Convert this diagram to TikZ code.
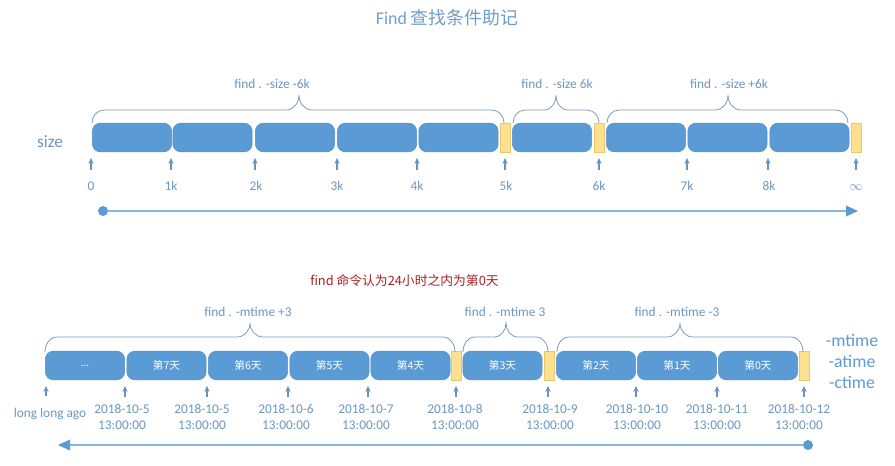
\documentclass[tikz,border=0pt]{standalone}
\usepackage{fontspec}
\setmainfont{Carlito}
\newfontfamily\cjk{Noto Sans CJK SC}
\usetikzlibrary{arrows.meta}
\definecolor{blk}{HTML}{5B9BD5}
\definecolor{blkedge}{HTML}{5090CA}
\definecolor{ylw}{HTML}{FFE08F}
\definecolor{ylwedge}{HTML}{EBC86E}
\definecolor{lbl}{HTML}{6C98C0}
\definecolor{tickc}{HTML}{6A93BC}
\definecolor{bracec}{HTML}{7E9AB6}
\definecolor{axisc}{HTML}{8AB8DC}
\definecolor{titlec}{HTML}{6E9FC9}
\definecolor{redc}{HTML}{A82020}
\definecolor{timec}{HTML}{5E9BD2}
\begin{document}
\begin{tikzpicture}[x=0.75pt,y=-0.75pt,
  blkbox/.style={fill=blk, draw=blkedge, line width=0.4pt, rounded corners=6pt,
    minimum width=59.5pt, minimum height=21.5pt, inner sep=0pt, text=white,
    font=\cjk\fontsize{8}{9}\selectfont},
  ylwbox/.style={fill=ylw, draw=ylwedge, line width=0.4pt, minimum width=7.5pt,
    minimum height=21.5pt, inner sep=0pt},
  lbl/.style={text=lbl, font=\fontsize{10}{12}\selectfont, inner sep=0pt, text height=6.3pt, text depth=0pt},
  datelbl/.style={text=lbl, font=\fontsize{10}{12}\selectfont, inner sep=0pt, align=center, anchor=north},
  tk/.style={draw=tickc, line width=0.8pt, -{Stealth[length=4.5pt,width=4pt]}},
  brc/.style={draw=bracec, line width=0.6pt},
  brclbl/.style={text=lbl, font=\fontsize{10}{12}\selectfont, inner sep=0pt, anchor=base},
  axis/.style={draw=axisc, line width=1pt},
  dotc/.style={circle, fill=blk, inner sep=0pt, minimum size=7.5pt},
  timelbl/.style={text=timec, font=\fontsize{13.3}{15}\selectfont, inner sep=0pt, anchor=base}
]
\useasboundingbox[fill=white] (0,0) rectangle (895,465);

% title
\node[anchor=base, text=titlec, font=\fontsize{13.4}{16}\selectfont, inner sep=0pt] (title) at (447,24) {Find {\cjk 查找条件助记}};

% ---------------- top: size ----------------
\node[anchor=base, text=lbl, font=\fontsize{13}{15}\selectfont, inner sep=0pt] (size) at (50,147) {size};

\node[blkbox] (s1) at (132,137.5) {};
\node[blkbox] (s2) at (212.5,137.5) {};
\node[blkbox] (s3) at (295,137.5) {};
\node[blkbox] (s4) at (377,137.5) {};
\node[blkbox] (s5) at (458.5,137.5) {};
\node[ylwbox] (y1) at (505,137.5) {};
\node[blkbox] (s6) at (552,137.5) {};
\node[ylwbox] (y2) at (599,137.5) {};
\node[blkbox] (s7) at (646,137.5) {};
\node[blkbox] (s8) at (727.5,137.5) {};
\node[blkbox] (s9) at (809.5,137.5) {};
\node[ylwbox] (y3) at (856,137.5) {};

% tick labels
\node[lbl, anchor=base] (k0) at (91,190) {0};
\node[lbl, anchor=base] (k1) at (171,190) {1k};
\node[lbl, anchor=base] (k2) at (256,190) {2k};
\node[lbl, anchor=base] (k3) at (337,190) {3k};
\node[lbl, anchor=base] (k4) at (417,190) {4k};
\node[lbl, anchor=base] (k5) at (506,190) {5k};
\node[lbl, anchor=base] (k6) at (599,190) {6k};
\node[lbl, anchor=base] (k7) at (687,190) {7k};
\node[lbl, anchor=base] (k8) at (769,190) {8k};
\node[lbl, anchor=base] (k9) at (856,190) {$\infty$};

\coordinate (a0) at (91,158);
\coordinate (a1) at (171,158);
\coordinate (a2) at (255,158);
\coordinate (a3) at (337,158);
\coordinate (a4) at (417,158);
\coordinate (a5) at (505,158);
\coordinate (a6) at (599,158);
\coordinate (a7) at (687,158);
\coordinate (a8) at (768,158);
\coordinate (a9) at (856,158);
\foreach \i in {0,...,9} {
  \draw[tk, shorten <=8.5pt] (k\i.north -| a\i) -- (a\i);
}

% braces top
\draw[brc] (92,123) to[out=90,in=180] (104,110) -- (286,110) to[out=0,in=-90] (299,95)
  to[out=-90,in=180] (312,110) -- (492,110) to[out=0,in=90] (504,123);
\draw[brc] (513,123) to[out=90,in=180] (525,110) -- (544,110) to[out=0,in=-90] (556,95)
  to[out=-90,in=180] (568,110) -- (587,110) to[out=0,in=90] (599,123);
\draw[brc] (607,123) to[out=90,in=180] (619,110) -- (715,110) to[out=0,in=-90] (728,95)
  to[out=-90,in=180] (741,110) -- (836,110) to[out=0,in=90] (848,123);
\node[brclbl] (b1) at (272,88) {find . -size -6k};
\node[brclbl] (b2) at (557,88) {find . -size 6k};
\node[brclbl] (b3) at (729,88) {find . -size +6k};

% axis top
\node[dotc] (d1) at (103,211) {};
\coordinate (e1) at (858,211);
\draw[axis, -{Triangle[length=9pt,width=8pt,fill=blk,color=blk]}] (d1) -- (e1);

% ---------------- bottom: time ----------------
\node[anchor=base west, text=redc, font=\cjk\fontsize{9.6}{12}\selectfont, inner sep=0pt] (note) at (310,285) {find 命令认为24小时之内为第0天};

\node[blkbox] (t1) at (85,365.5) {\fontspec{Carlito}...};
\node[blkbox] (t2) at (166.5,365.5) {第7天};
\node[blkbox] (t3) at (248,365.5) {第6天};
\node[blkbox] (t4) at (329.5,365.5) {第5天};
\node[blkbox] (t5) at (410.5,365.5) {第4天};
\node[ylwbox] (z1) at (456,365.5) {};
\node[blkbox] (t6) at (502.5,365.5) {第3天};
\node[ylwbox] (z2) at (549,365.5) {};
\node[blkbox] (t7) at (596,365.5) {第2天};
\node[blkbox] (t8) at (677,365.5) {第1天};
\node[blkbox] (t9) at (758,365.5) {第0天};
\node[ylwbox] (z3) at (804,365.5) {};

% date labels
\node[text=lbl, font=\fontsize{10}{12}\selectfont, inner sep=0pt, anchor=base] (m0) at (50,417) {long long ago};
\node[datelbl] (m1) at (122,403.8) {2018-10-5\\13:00:00};
\node[datelbl] (m2) at (202,403.8) {2018-10-5\\13:00:00};
\node[datelbl] (m3) at (286,403.8) {2018-10-6\\13:00:00};
\node[datelbl] (m4) at (366,403.8) {2018-10-7\\13:00:00};
\node[datelbl] (m5) at (455,403.8) {2018-10-8\\13:00:00};
\node[datelbl] (m6) at (550,403.8) {2018-10-9\\13:00:00};
\node[datelbl] (m7) at (637,403.8) {2018-10-10\\13:00:00};
\node[datelbl] (m8) at (717,403.8) {2018-10-11\\13:00:00};
\node[datelbl] (m9) at (799,403.8) {2018-10-12\\13:00:00};

\coordinate (c0) at (46,386);
\coordinate (c1) at (125,386);
\coordinate (c2) at (207,386);
\coordinate (c3) at (288,386);
\coordinate (c4) at (368,386);
\coordinate (c5) at (456,386);
\coordinate (c6) at (548,386);
\coordinate (c7) at (636,386);
\coordinate (c8) at (717,386);
\coordinate (c9) at (804,386);
\draw[tk, shorten <=8.3pt] (m0.north -| c0) -- (c0);
\foreach \i in {1,...,9} {
  \draw[tk, shorten <=5pt] (m\i.north -| c\i) -- (c\i);
}

% braces bottom
\draw[brc] (45,352) to[out=90,in=180] (57,337) -- (237,337) to[out=0,in=-90] (250,323)
  to[out=-90,in=180] (263,337) -- (443,337) to[out=0,in=90] (455,352);
\draw[brc] (463,352) to[out=90,in=180] (475,337) -- (494,337) to[out=0,in=-90] (506,323)
  to[out=-90,in=180] (518,337) -- (536,337) to[out=0,in=90] (548,352);
\draw[brc] (557,352) to[out=90,in=180] (569,337) -- (667,337) to[out=0,in=-90] (680,323)
  to[out=-90,in=180] (693,337) -- (791,337) to[out=0,in=90] (803,352);
\node[brclbl] (b4) at (248,316) {find . -mtime +3};
\node[brclbl] (b5) at (505,316) {find . -mtime 3};
\node[brclbl] (b6) at (677,316) {find . -mtime -3};

% right labels
\node[timelbl] (mt) at (852,346) {-mtime};
\node[timelbl] (at) at (852,367) {-atime};
\node[timelbl] (ct) at (852,388) {-ctime};

% axis bottom
\node[dotc] (d2) at (808,445) {};
\coordinate (e2) at (58,445);
\draw[axis, -{Triangle[length=9pt,width=8pt,fill=blk,color=blk]}] (d2) -- (e2);
\end{tikzpicture}
\end{document}
